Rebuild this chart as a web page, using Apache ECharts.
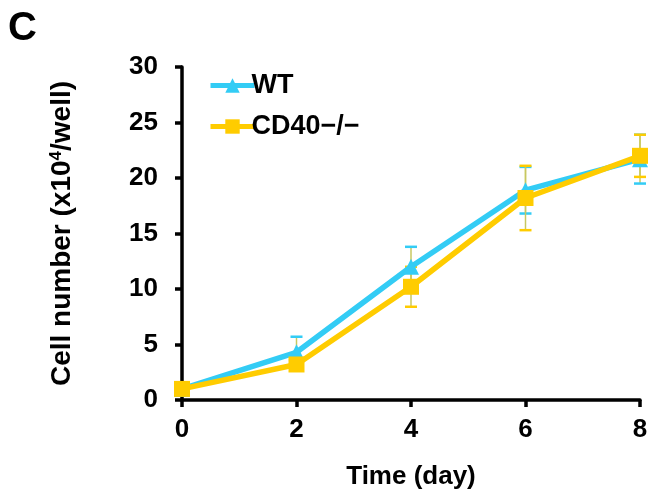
<!DOCTYPE html>
<html>
<head>
<meta charset="utf-8">
<script src="https://cdn.jsdelivr.net/npm/echarts@6/dist/echarts.min.js"></script>
<style>html,body{margin:0;padding:0;background:#fff}#c{width:654px;height:500px}</style>
</head>
<body>
<div id="c"></div>
<script>
var days = [0, 2, 4, 6, 8];
var wtMean = [1.0, 4.3, 12.0, 18.9, 21.7];
var wtErr = [0.2, 1.4, 1.8, 2.1, 2.2];
var koMean = [1.0, 3.2, 10.2, 18.2, 22.0];
var koErr = [0.2, 0.3, 1.8, 2.9, 1.9];
var names = ['WT', 'CD40\u2212/\u2212'];
var colors = ['#33CCF5', '#FFCC00'];
var yTicks = [0, 5, 10, 15, 20, 25, 30];
var xTicks = [0, 2, 4, 6, 8];

function pairs(m) { return days.map(function (d, i) { return [d, m[i]]; }); }
function errData(m, e) { return days.map(function (d, i) { return [d, m[i] - e[i], m[i] + e[i]]; }); }

function errSeries(m, e, color) {
  return {
    type: 'custom', z: 1, silent: true,
    data: errData(m, e),
    renderItem: function (params, api) {
      var x = api.value(0);
      var lo = api.coord([x, api.value(1)]);
      var hi = api.coord([x, api.value(2)]);
      var w = 6;
      var st = { stroke: color, lineWidth: 2.5 };
      return {
        type: 'group',
        children: [
          { type: 'line', shape: { x1: lo[0], y1: lo[1], x2: hi[0], y2: hi[1] }, style: { stroke: '#c8c860', lineWidth: 1.5 } },
          { type: 'line', shape: { x1: lo[0] - w, y1: lo[1], x2: lo[0] + w, y2: lo[1] }, style: st },
          { type: 'line', shape: { x1: hi[0] - w, y1: hi[1], x2: hi[0] + w, y2: hi[1] }, style: st }
        ]
      };
    }
  };
}

var font = 'Liberation Sans, Arial, sans-serif';
var chart = echarts.init(document.getElementById('c'));
chart.setOption({
  animation: false,
  backgroundColor: '#fff',
  title: { text: 'C', left: 3, top: 4, textStyle: { fontFamily: font, fontWeight: 'bold', fontSize: 40, color: '#000' } },
  grid: { left: 182, right: 14, top: 67, bottom: 100 },
  legend: {
    orient: 'vertical', left: 203, top: 67, itemGap: 14, itemWidth: 44, itemHeight: 18,
    data: names,
    lineStyle: { width: 5 },
    textStyle: { fontFamily: font, fontWeight: 'bold', fontSize: 27, color: '#000', padding: [0, 0, 0, -8] }
  },
  xAxis: {
    type: 'value', min: 0, max: 8, interval: 2,
    name: 'Time (day)', nameLocation: 'middle', nameGap: 64,
    nameTextStyle: { fontFamily: font, fontWeight: 'bold', fontSize: 26, color: '#000' },
    axisLine: { lineStyle: { color: '#000', width: 3.5 } },
    axisTick: { length: 7, lineStyle: { color: '#000', width: 3.5 } },
    axisLabel: { fontFamily: font, fontWeight: 'bold', fontSize: 26, color: '#000', margin: 17 },
    splitLine: { show: false }
  },
  yAxis: {
    type: 'value', min: 0, max: 30, interval: 5,
    name: 'Cell number (x10{s|4}/well)', nameLocation: 'middle', nameGap: 106,
    nameTextStyle: { fontFamily: font, fontWeight: 'bold', fontSize: 28, color: '#000',
      rich: { s: { fontFamily: font, fontWeight: 'bold', fontSize: 17, verticalAlign: 'top', lineHeight: 17, color: '#000', padding: [0, 0, 10, 0] } } },
    axisLine: { show: true, lineStyle: { color: '#000', width: 3.5 } },
    axisTick: { show: true, length: 7, lineStyle: { color: '#000', width: 3.5 } },
    axisLabel: { fontFamily: font, fontWeight: 'bold', fontSize: 26, color: '#000', margin: 24 },
    splitLine: { show: false }
  },
  series: [
    errSeries(wtMean, wtErr, colors[0]),
    errSeries(koMean, koErr, colors[1]),
    {
      name: names[0], type: 'line', z: 3, data: pairs(wtMean),
      symbol: 'triangle', symbolSize: 16, showAllSymbol: true,
      lineStyle: { color: colors[0], width: 5.5 },
      itemStyle: { color: colors[0] }
    },
    {
      name: names[1], type: 'line', z: 4, data: pairs(koMean),
      symbol: 'rect', symbolSize: 16,
      lineStyle: { color: colors[1], width: 5.5 },
      itemStyle: { color: colors[1] }
    }
  ]
});
</script>
</body>
</html>
